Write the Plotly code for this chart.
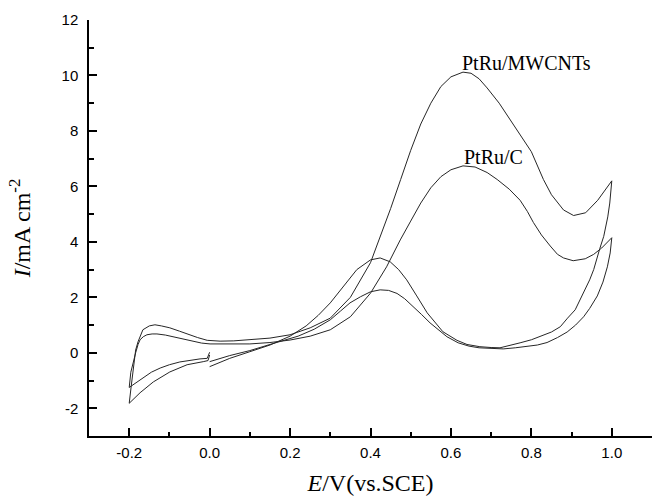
import plotly.graph_objects as go

# PtRu/MWCNTs cyclic voltammogram (path order: 0.0 -> -0.2 -> 1.0 -> 0.0)
mw_E = [0.0, -0.004, -0.016, -0.056, -0.099, -0.14, -0.173, -0.2,
        -0.195, -0.19, -0.184, -0.178, -0.166, -0.15, -0.136, -0.12, -0.099, -0.075, -0.056, -0.03,
        -0.006, 0.026, 0.06, 0.10, 0.15, 0.20, 0.25, 0.30, 0.35, 0.40, 0.424, 0.45, 0.475, 0.50,
        0.525, 0.55, 0.575, 0.60, 0.63, 0.65, 0.67, 0.69, 0.72, 0.75, 0.78, 0.80, 0.83, 0.85, 0.88,
        0.905, 0.935, 0.965, 1.0,
        0.995, 0.99, 0.98, 0.97, 0.955, 0.945, 0.925, 0.909, 0.89, 0.872, 0.85, 0.822, 0.80, 0.772,
        0.745, 0.722, 0.70, 0.672, 0.64, 0.615, 0.58, 0.56, 0.541, 0.515, 0.49, 0.47, 0.449, 0.424,
        0.40, 0.366, 0.332, 0.30, 0.27, 0.24, 0.20, 0.15, 0.10, 0.05, 0.0]
mw_I = [-0.08, -0.28, -0.32, -0.43, -0.69, -1.05, -1.44, -1.82,
        -1.2, -0.5, 0.1, 0.4, 0.83, 0.97, 1.01, 0.97, 0.9, 0.78, 0.68, 0.55,
        0.45, 0.42, 0.43, 0.47, 0.53, 0.65, 0.9, 1.25, 2.0, 3.25, 4.15, 5.2, 6.25, 7.3,
        8.25, 9.0, 9.6, 9.95, 10.12, 10.08, 9.88, 9.55, 9.0, 8.35, 7.7, 7.25, 6.25, 5.7, 5.15,
        4.95, 5.05, 5.5, 6.2,
        5.4, 4.9, 4.2, 3.75, 3.0, 2.63, 2.0, 1.55, 1.25, 0.94, 0.75, 0.58, 0.47, 0.36,
        0.25, 0.18, 0.19, 0.22, 0.3, 0.45, 0.76, 1.1, 1.44, 2.05, 2.63, 3.0, 3.28, 3.42,
        3.35, 3.0, 2.38, 1.8, 1.35, 0.97, 0.6, 0.28, 0.04, -0.2, -0.5]

# PtRu/C cyclic voltammogram
c_E = [0.0, -0.006, -0.024, -0.05, -0.074, -0.1, -0.123, -0.145, -0.166, -0.185, -0.2,
       -0.196, -0.19, -0.184, -0.178, -0.173, -0.165, -0.156, -0.143, -0.131, -0.11, -0.091,
       -0.065, -0.041, -0.02, 0.001, 0.05, 0.10, 0.15, 0.20, 0.25, 0.30, 0.35, 0.40, 0.44,
       0.474, 0.50, 0.525, 0.55, 0.575, 0.60, 0.63, 0.66, 0.69, 0.715, 0.745, 0.772, 0.79,
       0.805, 0.825, 0.847, 0.865, 0.88, 0.904, 0.934, 0.955, 0.975, 1.0,
       0.996, 0.989, 0.978, 0.964, 0.945, 0.93, 0.91, 0.889, 0.865, 0.839, 0.815, 0.789, 0.76,
       0.73, 0.70, 0.67, 0.645, 0.618, 0.59, 0.57, 0.548, 0.527, 0.506, 0.485, 0.466, 0.445,
       0.424, 0.40, 0.375, 0.349, 0.325, 0.30, 0.26, 0.22, 0.15, 0.10, 0.05, 0.0]
c_I = [0.02, -0.2, -0.22, -0.27, -0.33, -0.43, -0.55, -0.7, -0.9, -1.1, -1.25,
       -0.7, -0.3, 0.0, 0.3, 0.47, 0.58, 0.65, 0.68, 0.68, 0.64, 0.58,
       0.49, 0.41, 0.35, 0.32, 0.31, 0.32, 0.37, 0.46, 0.6, 0.83, 1.3, 2.15, 3.1,
       4.07, 4.75, 5.4, 5.95, 6.35, 6.6, 6.74, 6.7, 6.5, 6.25, 5.9, 5.5, 5.1,
       4.7, 4.25, 3.85, 3.55, 3.42, 3.32, 3.39, 3.55, 3.78, 4.15,
       3.6, 3.1, 2.55, 2.05, 1.6, 1.3, 1.0, 0.75, 0.55, 0.37, 0.28, 0.22, 0.18,
       0.14, 0.15, 0.18, 0.24, 0.36, 0.58, 0.82, 1.08, 1.38, 1.66, 1.95, 2.14, 2.25,
       2.27, 2.2, 2.02, 1.8, 1.5, 1.19, 0.85, 0.6, 0.3, 0.08, -0.1, -0.32]

x_tickvals = [-0.2, 0.0, 0.2, 0.4, 0.6, 0.8, 1.0]
x_ticktext = ["-0.2", "0.0", "0.2", "0.4", "0.6", "0.8", "1.0"]
y_tickvals = [-2, 0, 2, 4, 6, 8, 10, 12]
y_ticktext = ["-2", "0", "2", "4", "6", "8", "10", "12"]

labels = ["PtRu/MWCNTs", "PtRu/C"]
label_pos = [(0.787, 10.46), (0.707, 7.07)]

line_style = dict(color="#262626", width=1)
fig = go.Figure()
fig.add_trace(go.Scatter(x=mw_E, y=mw_I, mode="lines", line=line_style, showlegend=False))
fig.add_trace(go.Scatter(x=c_E, y=c_I, mode="lines", line=line_style, showlegend=False))

for txt, (lx, ly) in zip(labels, label_pos):
    fig.add_annotation(x=lx, y=ly, text=txt, showarrow=False,
                       font=dict(family="Liberation Serif", size=20, color="black"))

axis_common = dict(showline=True, linecolor="black", linewidth=1.5, ticks="inside",
                   ticklen=8, tickwidth=1.5, tickcolor="black", showgrid=False, zeroline=False,
                   tickfont=dict(family="Liberation Sans", size=15, color="black"))

fig.update_xaxes(range=[-0.3, 1.1], tickvals=x_tickvals, ticktext=x_ticktext,
                 minor=dict(ticks="inside", ticklen=4, tickwidth=1.5, tickcolor="black",
                            tick0=-0.1, dtick=0.2),
                 title=dict(text="<i>E</i>/V(vs.SCE)", standoff=14,
                            font=dict(family="Liberation Serif", size=24, color="black")),
                 ticklabelstandoff=2,
                 **axis_common)
fig.update_yaxes(range=[-3, 12], tickvals=y_tickvals, ticktext=y_ticktext,
                 minor=dict(ticks="inside", ticklen=5, tickwidth=1.5, tickcolor="black",
                            tick0=-1, dtick=2),
                 title=dict(text="<i>I</i>/mA cm<sup>-2</sup>", standoff=24,
                            font=dict(family="Liberation Serif", size=24, color="black")),
                 ticklabelstandoff=6,
                 **axis_common)

fig.update_layout(width=652, height=496, margin=dict(l=89, r=0, t=20, b=60),
                  plot_bgcolor="white", paper_bgcolor="white")

fig.write_html("out.html")
